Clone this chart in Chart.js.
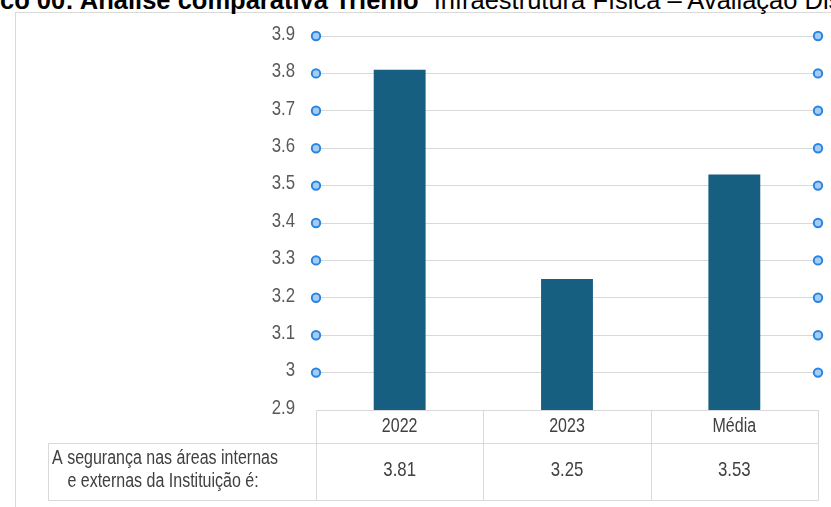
<!DOCTYPE html>
<html>
<head>
<meta charset="utf-8">
<script src="https://cdn.jsdelivr.net/npm/chart.js@4/dist/chart.umd.min.js"></script>
<style>
  html, body { margin: 0; padding: 0; background: #fff; overflow: hidden; }
  #wrap { position: relative; width: 831px; height: 507px; overflow: hidden; }
  #frame { position: absolute; left: 15px; top: 12px; width: 900px; height: 600px; border: 1px solid #d9d9d9; box-sizing: border-box; }
  #title { position: absolute; top: -14px; white-space: nowrap; font-family: "Liberation Sans", Arial, sans-serif; font-size: 25.5px; color: #000; }
  #title b { font-weight: bold; }
  #title .rest { margin-left: 8px; }
  canvas { position: absolute; left: 0; top: 0; }
</style>
</head>
<body>
<div id="wrap">
  <div id="frame"></div>
  <div id="title"><span id="hidden"><b>Gráfi</b></span><b>co 00: Análise comparativa Triênio</b> <span class="rest">Infraestrutura Física – Avaliação Discente</span></div>
  <canvas id="c" width="831" height="507"></canvas>
</div>
<script>
// ---- Data ----
const categories = ["2022", "2023", "Média"];
const values = [3.81, 3.25, 3.53];
const rowLabel = ["A segurança nas áreas internas", "e externas da Instituição é:"];
const yMin = 2.9;
const yMax = 3.9;
const yStep = 0.1;

// position title so that the clipped part sits left of the page
(function () {
  const t = document.getElementById('title');
  const h = document.getElementById('hidden');
  t.style.left = (-h.getBoundingClientRect().width) + 'px';
})();

const FONT = '"Liberation Sans", Arial, sans-serif';
const NARROW = 0.8;

// draw condensed text (emulates a narrow typeface)
function narrowText(ctx, text, x, y, size, color, align) {
  ctx.save();
  ctx.font = size + 'px ' + FONT;
  ctx.fillStyle = color;
  ctx.textBaseline = 'middle';
  ctx.textAlign = align;
  ctx.translate(x, y);
  ctx.scale(NARROW, 1);
  ctx.fillText(text, 0, 0);
  ctx.restore();
}

const yLabelPlugin = {
  id: 'yLabelPlugin',
  afterDraw(chart) {
    const ys = chart.scales.y;
    const ctx = chart.ctx;
    ys.ticks.forEach(t => {
      const y = ys.getPixelForValue(t.value);
      narrowText(ctx, String(Math.round(t.value * 10) / 10), chart.chartArea.left - 21, y - 2, 21, '#595959', 'right');
    });
  }
};

const tablePlugin = {
  id: 'tablePlugin',
  afterDraw(chart) {
    const ctx = chart.ctx;
    const xs = chart.scales.x;
    const ys = chart.scales.y;
    const area = chart.chartArea;
    const top = ys.getPixelForValue(yMin);
    const left = area.left, right = area.right;
    const step = (right - left) / categories.length;
    const rowH1 = 33, rowH2 = 57;
    const labelLeft = 48;
    ctx.save();
    ctx.strokeStyle = '#d9d9d9';
    ctx.lineWidth = 1;
    const line = (x1, y1, x2, y2) => { ctx.beginPath(); ctx.moveTo(Math.round(x1) + 0.5, Math.round(y1) + 0.5); ctx.lineTo(Math.round(x2) + 0.5, Math.round(y2) + 0.5); ctx.stroke(); };
    line(left, top, right, top);
    line(labelLeft, top + rowH1, right, top + rowH1);
    line(labelLeft, top + rowH1 + rowH2, right, top + rowH1 + rowH2);
    line(labelLeft, top + rowH1, labelLeft, top + rowH1 + rowH2);
    for (let i = 0; i <= categories.length; i++) {
      const x = left + i * step;
      line(x, top, x, top + rowH1 + rowH2);
    }
    ctx.restore();
    categories.forEach((c, i) => {
      const x = xs.getPixelForValue(i);
      narrowText(ctx, c, x, top + rowH1 / 2, 20, '#404040', 'center');
      narrowText(ctx, values[i].toFixed(2), x, top + rowH1 + rowH2 / 2 - 1, 21, '#404040', 'center');
    });
    narrowText(ctx, rowLabel[0], 165, top + rowH1 + 15, 20, '#404040', 'center');
    narrowText(ctx, rowLabel[1], 163, top + rowH1 + 38, 20, '#404040', 'center');
  }
};

const markerPlugin = {
  id: 'markerPlugin',
  afterDatasetsDraw(chart) {
    const ctx = chart.ctx;
    const ys = chart.scales.y;
    const area = chart.chartArea;
    ctx.save();
    ys.ticks.forEach(t => {
      if (Math.abs(t.value - yMin) < 1e-9) return;
      const y = ys.getPixelForValue(t.value);
      [area.left, area.right].forEach(x => {
        ctx.beginPath();
        ctx.arc(x, y, 4.2, 0, Math.PI * 2);
        ctx.fillStyle = '#a4ccf4';
        ctx.fill();
        ctx.lineWidth = 2;
        ctx.strokeStyle = '#2a85e0';
        ctx.stroke();
      });
    });
    ctx.restore();
  }
};

new Chart(document.getElementById('c'), {
  type: 'bar',
  data: {
    labels: categories,
    datasets: [{
      data: values,
      backgroundColor: '#175f80',
      borderWidth: 0,
      categoryPercentage: 1,
      barPercentage: 0.31
    }]
  },
  options: {
    responsive: false,
    animation: false,
    devicePixelRatio: 1,
    layout: { padding: { left: 0, right: 13, top: 36, bottom: 97 } },
    plugins: { legend: { display: false }, tooltip: { enabled: false }, title: { display: false } },
    scales: {
      x: { display: false },
      y: {
        min: yMin,
        max: yMax,
        afterFit(scale) { scale.width = 316; },
        border: { display: false },
        grid: {
          color: ctx => (Math.abs(ctx.tick.value - yMin) < 1e-9 ? 'rgba(0,0,0,0)' : '#d9d9d9'),
          tickLength: 0,
          lineWidth: 1
        },
        ticks: {
          stepSize: yStep,
          display: false
        }
      }
    }
  },
  plugins: [tablePlugin, markerPlugin, yLabelPlugin]
});
</script>
</body>
</html>
